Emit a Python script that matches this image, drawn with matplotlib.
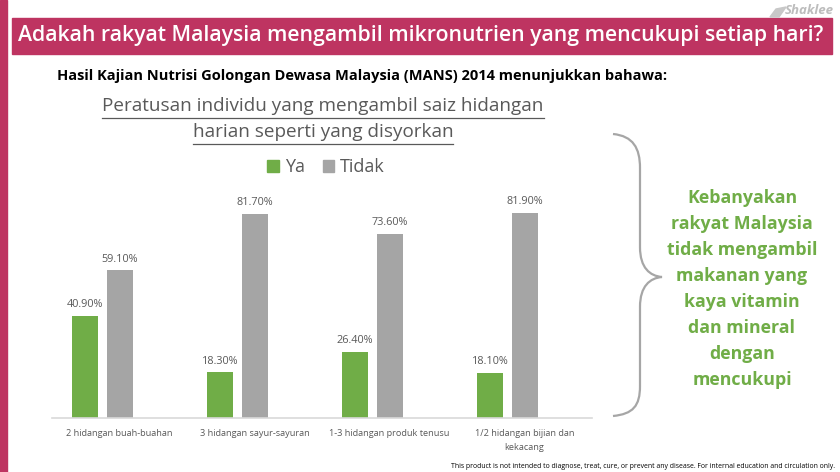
import matplotlib
matplotlib.use("Agg")
import matplotlib.pyplot as plt
from matplotlib.patches import Rectangle, Patch, PathPatch, Polygon
from matplotlib.path import Path
from matplotlib.lines import Line2D
import numpy as np

# data
categories = ["2 hidangan buah-buahan", "3 hidangan sayur-sayuran",
              "1-3 hidangan produk tenusu", "1/2 hidangan bijian dan\nkekacang"]
ya = [40.9, 18.3, 26.4, 18.1]
tidak = [59.1, 81.7, 73.6, 81.9]
series_names = ["Ya", "Tidak"]

side_lines = ["Kebanyakan", "rakyat Malaysia", "tidak mengambil", "makanan yang",
              "kaya vitamin", "dan mineral", "dengan", "mencukupi"]

W, H = 840, 472
MAGENTA = "#BE3461"
GREEN = "#70AD47"
GREY = "#A5A5A5"
TXT = "#595959"

plt.rcParams['font.family'] = ['Open Sans', 'DejaVu Sans']

fig = plt.figure(figsize=(W / 100, H / 100), dpi=100)


def px(x, y):
    return x / W, 1 - y / H


# left stripe + header banner
fig.patches.append(Rectangle(px(0, H), 7 / W, 1, transform=fig.transFigure,
                             color=MAGENTA, zorder=0))
fig.patches.append(Rectangle(px(12, 54), (832 - 12) / W, 36 / H,
                             transform=fig.transFigure, color=MAGENTA, zorder=0))
fig.text(*px(18, 36), "Adakah rakyat Malaysia mengambil mikronutrien yang mencukupi setiap hari?",
         color="white", fontsize=15.35, fontweight="semibold", va="center", ha="left")

# logo
fig.patches.append(Polygon([px(770, 17), px(776, 9), px(786, 7), px(779, 17)], closed=True,
                           transform=fig.transFigure, color="#C8C8C8"))
fig.text(*px(834, 11), "Shaklee", color="#BDBDBD", fontsize=9.5, fontstyle="italic",
         fontweight="bold", ha="right", va="center")

fig.text(*px(57, 76), "Hasil Kajian Nutrisi Golongan Dewasa Malaysia (MANS) 2014 menunjukkan bahawa:",
         color="black", fontsize=10.5, fontweight="bold", va="center", ha="left")

# chart title with underline
t1 = fig.text(*px(323, 106), "Peratusan individu yang mengambil saiz hidangan",
              color=TXT, fontsize=13.6, ha="center", va="center")
t2 = fig.text(*px(323, 132), "harian seperti yang disyorkan",
              color=TXT, fontsize=13.6, ha="center", va="center")
fig.canvas.draw()
r = fig.canvas.get_renderer()
for t, yy in [(t1, 118), (t2, 144)]:
    bb = t.get_window_extent(r)
    fig.lines.append(Line2D([bb.x0 / W, bb.x1 / W], [1 - yy / H, 1 - yy / H],
                            transform=fig.transFigure, color=TXT, lw=0.9))

# bar chart
ax = fig.add_axes([52 / W, (H - 418) / H, 540 / W, 90 * 2.503 / H])
x = np.arange(len(categories))
bw = 26 / 135
b1 = ax.bar(x - 34.5 / 135, ya, bw, color=GREEN)
b2 = ax.bar(x, tidak, bw, color=GREY)
for b in (b1, b2):
    ax.bar_label(b, labels=[f"{v:.2f}%" for v in b.datavalues], padding=4,
                 fontsize=7.8, color=TXT)
ax.set_xlim(-0.5, len(categories) - 0.5)
ax.set_ylim(0, 90)
ax.set_xticks(x)
ax.set_xticklabels(categories, fontsize=6.6, color=TXT, linespacing=1.7)
ax.tick_params(axis="x", length=0, pad=8)
ax.set_yticks([])
for s in ["left", "right", "top"]:
    ax.spines[s].set_visible(False)
ax.spines["bottom"].set_color("#D9D9D9")
ax.spines["bottom"].set_linewidth(1.2)

handles = [Patch(color=GREEN), Patch(color=GREY)]
fig.legend(handles, series_names, loc="center", bbox_to_anchor=px(326, 167), ncol=2,
           frameon=False, fontsize=13, handlelength=0.65, handleheight=0.65,
           handletextpad=0.3, columnspacing=1.0, labelcolor=TXT)

# brace
verts = [(613, 134), (633, 136), (640, 148), (640, 168), (640, 247),
         (640, 268), (650, 276), (662, 277),
         (650, 278), (640, 286), (640, 307), (640, 386),
         (640, 406), (633, 414), (613, 416)]
codes = [Path.MOVETO, Path.CURVE4, Path.CURVE4, Path.CURVE4, Path.LINETO,
         Path.CURVE4, Path.CURVE4, Path.CURVE4,
         Path.CURVE4, Path.CURVE4, Path.CURVE4, Path.LINETO,
         Path.CURVE4, Path.CURVE4, Path.CURVE4]
brace = Path([px(a, b) for a, b in verts], codes)
fig.patches.append(PathPatch(brace, transform=fig.transFigure, fill=False,
                             edgecolor="#A6A6A6", lw=1.6))

for i, line in enumerate(side_lines):
    fig.text(*px(742, 198 + i * 26), line, color=GREEN, fontsize=12.8,
             fontweight="bold", ha="center", va="center")

fig.text(*px(835, 466), "This product is not intended to diagnose, treat, cure, or prevent any disease. "
         "For internal education and circulation only.", fontsize=4.95, color="black",
         ha="right", va="center")

fig.savefig("out.png", dpi=100)
